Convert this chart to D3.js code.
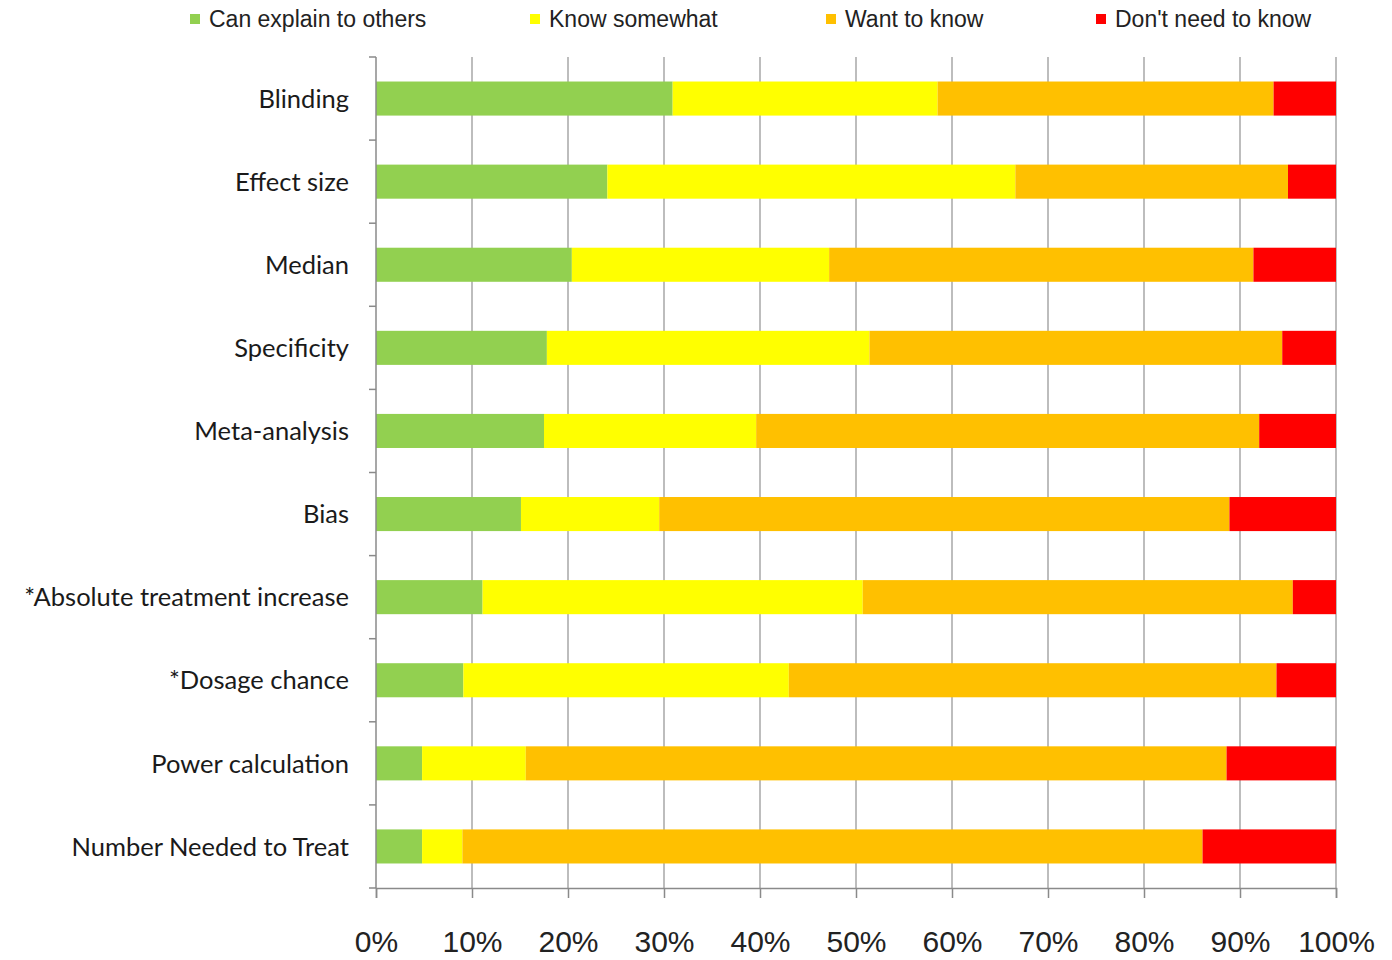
<!DOCTYPE html>
<html lang="en">
  <head>
    <meta charset="UTF-8" />
    <title>Statistical terms – stacked bars</title>
    <script src="https://d3js.org/d3.v7.min.js"></script>
    <style>
      body { margin: 0; padding: 0; background: #fff; }
      svg { display: block; }
      .cat { font-family: Lato, "Open Sans", sans-serif; font-size: 25.5px; fill: #1a1a1a; }
      .tick-x { font-family: "Liberation Sans Narrow", "Arial Narrow", sans-serif; font-size: 30px; fill: #222; }
      .legend text { font-family: "Liberation Sans Narrow", "Arial Narrow", sans-serif; font-size: 23px; fill: #222; }
    </style>
  </head>
  <body>
    <div id="chart"></div>
    <script>
      const width = 1392;
      const height = 960;

      // data (percent of respondents)
      const categories = [
        "Blinding", "Effect size", "Median", "Specificity", "Meta-analysis", "Bias",
        "*Absolute treatment increase", "*Dosage chance", "Power calculation", "Number Needed to Treat"
      ];
      const seriesNames = ["Can explain to others", "Know somewhat", "Want to know", "Don't need to know"];
      const seriesColors = ["#92D050", "#FFFF00", "#FFC000", "#FF0000"];
      const canExplain = [30.9, 24.1, 20.4, 17.8, 17.5, 15.1, 11.1, 9.1, 4.8, 4.8];
      const knowSomewhat = [27.6, 42.5, 26.8, 33.6, 22.1, 14.4, 39.6, 33.9, 10.8, 4.2];
      const wantToKnow = [35.0, 28.4, 44.2, 43.0, 52.4, 59.4, 44.8, 50.8, 73.0, 77.1];
      const dontNeed = [6.5, 5.0, 8.6, 5.6, 8.0, 11.1, 4.5, 6.2, 11.4, 13.9];
      const xTicks = [0, 10, 20, 30, 40, 50, 60, 70, 80, 90, 100];

      const rows = categories.map((c, i) => ({
        cat: c,
        [seriesNames[0]]: canExplain[i],
        [seriesNames[1]]: knowSomewhat[i],
        [seriesNames[2]]: wantToKnow[i],
        [seriesNames[3]]: dontNeed[i]
      }));

      const plot = { left: 376, right: 1336, top: 57, bottom: 888 };

      const svg = d3.select("#chart").append("svg").attr("width", width).attr("height", height);

      const x = d3.scaleLinear().domain([0, 100]).range([plot.left, plot.right]);
      const pad = 0.59;
      const y = d3.scaleBand().domain(categories).range([plot.top, plot.bottom]).paddingInner(pad).paddingOuter(pad / 2);
      const color = d3.scaleOrdinal().domain(seriesNames).range(seriesColors);

      // vertical grid lines
      svg.append("g")
        .selectAll("line")
        .data(xTicks.slice(1))
        .join("line")
        .attr("x1", d => x(d)).attr("x2", d => x(d))
        .attr("y1", plot.top).attr("y2", plot.bottom)
        .attr("stroke", "#9a9a9a").attr("stroke-width", 1.3);

      // stacked bars
      const stacked = d3.stack().keys(seriesNames)(rows);
      svg.append("g")
        .selectAll("g")
        .data(stacked)
        .join("g")
        .attr("fill", d => color(d.key))
        .selectAll("rect")
        .data(d => d)
        .join("rect")
        .attr("x", d => x(d[0]))
        .attr("width", d => x(d[1]) - x(d[0]))
        .attr("y", d => y(d.data.cat))
        .attr("height", y.bandwidth());

      // y axis line + ticks between categories
      const axisY = svg.append("g").attr("stroke", "#8a8a8a").attr("stroke-width", 1.5);
      axisY.append("line").attr("x1", plot.left).attr("x2", plot.left).attr("y1", plot.top).attr("y2", plot.bottom);
      const bounds = d3.range(categories.length + 1).map(i => plot.top + i * y.step());
      axisY.selectAll(".yt").data(bounds).join("line")
        .attr("x1", plot.left - 7).attr("x2", plot.left)
        .attr("y1", d => d).attr("y2", d => d);

      // x axis
      const xAxis = d3.axisBottom(x).tickValues(xTicks).tickSize(10).tickFormat(d => d + "%");
      const gx = svg.append("g").attr("transform", `translate(0,${plot.bottom})`).call(xAxis);
      gx.select(".domain").attr("stroke", "#8a8a8a").attr("stroke-width", 1.5);
      gx.selectAll(".tick line").attr("stroke", "#8a8a8a").attr("stroke-width", 1.5);
      gx.selectAll(".tick text").attr("class", "tick-x").attr("dy", null).attr("y", 64).attr("fill", null);

      // category labels
      svg.append("g")
        .selectAll("text")
        .data(categories)
        .join("text")
        .attr("class", "cat")
        .attr("x", plot.left - 27)
        .attr("y", d => y(d) + y.bandwidth() / 2)
        .attr("dy", "0.36em")
        .attr("text-anchor", "end")
        .text(d => d);

      // legend
      const legendX = [190, 530, 826, 1096];
      const legend = svg.append("g").attr("class", "legend");
      const items = legend.selectAll("g").data(seriesNames).join("g")
        .attr("transform", (d, i) => `translate(${legendX[i]},19)`);
      items.append("rect").attr("x", 0).attr("y", -5).attr("width", 10).attr("height", 10).attr("fill", d => color(d));
      items.append("text").attr("x", 19).attr("dy", "0.36em").text(d => d);
    </script>
  </body>
</html>
